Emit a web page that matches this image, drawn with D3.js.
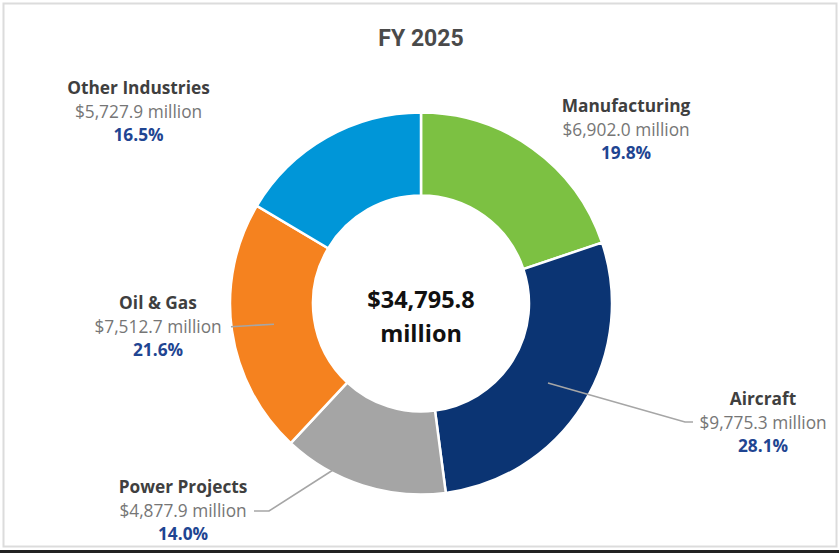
<!DOCTYPE html>
<html>
<head>
<meta charset="utf-8">
<script src="https://cdn.jsdelivr.net/npm/d3@7"></script>
<style>
  body { margin: 0; background: #fff; }
  svg { display: block; font-family: "Open Sans", "Noto Sans", sans-serif; }
</style>
</head>
<body>
<div id="chart"></div>
<script>
// Chart data
const segments = ["Manufacturing", "Aircraft", "Power Projects", "Oil & Gas", "Other Industries"];
const revenue = [6902.0, 9775.3, 4877.9, 7512.7, 5727.9];
const shares = ["19.8%", "28.1%", "14.0%", "21.6%", "16.5%"];
const totalLabel = ["$34,795.8", "million"];
const title = "FY 2025";

const svgWidth = 839;
const svgHeight = 553;

const colors = d3.scaleOrdinal()
  .domain(segments)
  .range(["#7cc142", "#0b3473", "#a5a5a5", "#f5821f", "#0096d8"]);

const svg = d3.select("#chart")
  .append("svg")
  .attr("width", svgWidth)
  .attr("height", svgHeight);

// frame
svg.append("rect")
  .attr("x", 3.5).attr("y", 3.5)
  .attr("width", 833).attr("height", 543)
  .attr("fill", "#fff")
  .attr("stroke", "#dcdcdc")
  .attr("stroke-width", 2);
svg.append("rect")
  .attr("x", 0).attr("y", 550)
  .attr("width", svgWidth).attr("height", 3)
  .attr("fill", "#222");

svg.append("text")
  .attr("x", 421).attr("y", 46)
  .attr("text-anchor", "middle")
  .attr("font-size", 23)
  .attr("font-weight", "bold")
  .attr("fill", "#4a4a4a")
  .attr("font-family", "'Liberation Sans Narrow', 'Roboto', sans-serif")
  .text(title);

const cx = 421, cy = 303.5;
const outerR = 191, innerR = 108;

const pie = d3.pie().sort(null).value(d => d.value);
const arc = d3.arc().innerRadius(innerR).outerRadius(outerR);
const data = segments.map((s, i) => ({ name: s, value: revenue[i], share: shares[i] }));
const arcs = pie(data);

const donut = svg.append("g").attr("transform", `translate(${cx}, ${cy})`);
donut.selectAll("path")
  .data(arcs)
  .join("path")
  .attr("d", arc)
  .attr("fill", d => colors(d.data.name))
  .attr("stroke", "#fff")
  .attr("stroke-width", 2.5);

// center total
donut.append("text")
  .attr("text-anchor", "middle")
  .attr("font-size", 23.5)
  .attr("font-weight", "bold")
  .attr("fill", "#111")
  .selectAll("tspan")
  .data(totalLabel)
  .join("tspan")
  .attr("x", 0)
  .attr("y", (d, i) => 4 + i * 34)
  .text(d => d);

// label placement (x center, baseline of first line) and leader lines
const labelPos = {
  "Manufacturing": { x: 626, y: 112 },
  "Aircraft": { x: 763, y: 405 },
  "Power Projects": { x: 183, y: 493 },
  "Oil & Gas": { x: 158, y: 309 },
  "Other Industries": { x: 138.5, y: 94 }
};

const leaders = {
  "Aircraft": [[548, 383], [685, 422], [693, 422]],
  "Power Projects": [[333, 470], [269, 511], [254, 511]],
  "Oil & Gas": [[274, 324.3], [231, 326.7]]
};

svg.selectAll("path.leader")
  .data(Object.values(leaders))
  .join("path")
  .attr("class", "leader")
  .attr("d", d3.line())
  .attr("fill", "none")
  .attr("stroke", "#a6a6a6")
  .attr("stroke-width", 1.6);

const labels = svg.selectAll("g.label")
  .data(data)
  .join("g")
  .attr("class", "label")
  .attr("transform", d => `translate(${labelPos[d.name].x}, ${labelPos[d.name].y})`)
  .attr("text-anchor", "middle")
  .attr("font-size", 17.3);

labels.append("text")
  .attr("font-weight", "bold")
  .attr("fill", "#3f3f3f")
  .text(d => d.name);
labels.append("text")
  .attr("y", 23.5)
  .attr("fill", "#767676")
  .text(d => "$" + d3.format(",.1f")(d.value) + " million");
labels.append("text")
  .attr("y", 47)
  .attr("font-weight", "bold")
  .attr("fill", "#1f4592")
  .text(d => d.share);
</script>
</body>
</html>
